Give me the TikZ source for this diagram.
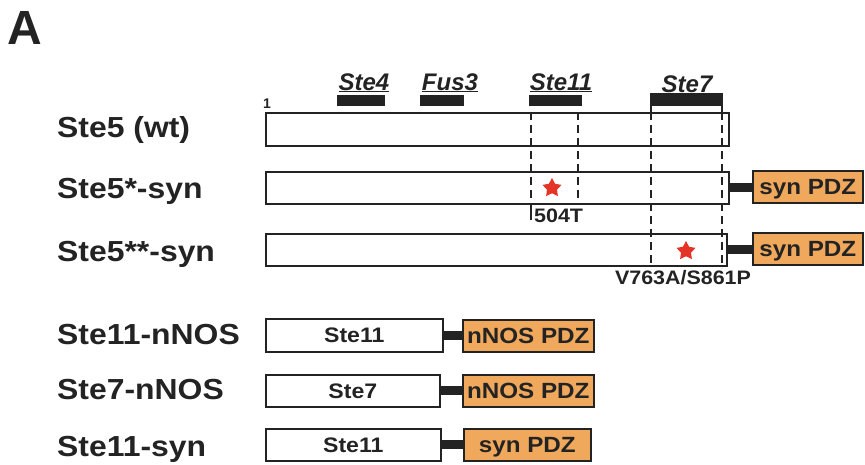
\documentclass[tikz,border=0pt]{standalone}
\usepackage{fontspec}
\setmainfont{Liberation Sans}
\newfontfamily\lf[FakeStretch=1.1]{Liberation Sans}
\usetikzlibrary{shapes.geometric}
\definecolor{pdz}{RGB}{240,168,92}
\definecolor{ink}{RGB}{35,35,35}
\definecolor{starred}{RGB}{228,52,40}
\tikzset{
  bar/.style={draw=ink, line width=1.6pt, fill=white, anchor=north west, inner sep=0pt,
    font=\lf\bfseries\fontsize{21}{21}\selectfont, text=ink, text height=15pt, text depth=0pt},
  pdzbox/.style={draw=ink, line width=1.6pt, fill=pdz, anchor=north west, inner sep=0pt,
    font=\lf\bfseries\fontsize{22}{22}\selectfont, text=ink, text height=16pt, text depth=0pt},
  link/.style={draw=ink, line width=9pt},
  dom/.style={fill=ink, anchor=north west, inner sep=0pt},
  guide/.style={draw=ink, line width=1.3pt, dash pattern=on 8pt off 5pt},
  lbl/.style={anchor=base west, inner sep=0pt, font=\lf\bfseries\fontsize{29}{29}\selectfont, text=ink},
  domlbl/.style={anchor=base, inner sep=0pt, font=\bfseries\itshape\fontsize{24}{24}\selectfont, text=ink},
  mut/.style={inner sep=0pt, font=\lf\bfseries\fontsize{19.5}{19.5}\selectfont, text=ink},
  starmark/.style={star, star points=5, star point ratio=1.9, fill=starred, draw=none, minimum size=20pt, inner sep=0pt}
}
\begin{document}
\begin{tikzpicture}[x=1pt,y=-1pt]
\useasboundingbox (0,0) rectangle (865,464);
% panel letter
\node[anchor=base west, inner sep=0pt, font=\bfseries\fontsize{48}{48}\selectfont, text=ink] (panel) at (7,44) {A};
% row labels
\node[lbl] (l1) at (57,137) {Ste5 (wt)};
\node[lbl] (l2) at (57,198) {Ste5*-syn};
\node[lbl] (l3) at (57,261) {Ste5**-syn};
\node[lbl] (l4) at (57,344) {Ste11-nNOS};
\node[lbl] (l5) at (57,399) {Ste7-nNOS};
\node[lbl] (l6) at (57,456) {Ste11-syn};
% domain bars
\node[dom, minimum width=48pt, minimum height=11pt] (d4) at (337,95) {};
\node[dom, minimum width=44pt, minimum height=11pt] (df) at (420,95) {};
\node[dom, minimum width=53pt, minimum height=11pt] (d11) at (529,95) {};
\node[dom, minimum width=73pt, minimum height=13pt] (d7) at (650,93) {};
\node[domlbl] (t4) at (364,90) {\underline{Ste4}};
\node[domlbl] (tf) at (450,90) {\underline{Fus3}};
\node[domlbl] (t11) at (561,90) {\underline{Ste11}};
\node[domlbl] (t7) at (687,92) {\underline{Ste7}};
\node[anchor=base, inner sep=0pt, font=\bfseries\fontsize{14}{14}\selectfont, text=ink] (one) at (267,108) {1};
% Ste5 constructs
\node[bar, minimum width=463pt, minimum height=33pt] (wt) at (265,112) {};
\node[bar, minimum width=463pt, minimum height=32pt] (s1) at (265,171) {};
\node[pdzbox, minimum width=110pt, minimum height=32pt] (p1) at (752,170) {syn PDZ};
\draw[link] (s1.east) -- (s1.east -| p1.west);
\node[bar, minimum width=461pt, minimum height=32pt] (s2) at (265,233) {};
\node[pdzbox, minimum width=110pt, minimum height=32pt] (p2) at (752,232) {syn PDZ};
\draw[link] (s2.east) -- (s2.east -| p2.west);
% bracket ends of Ste7 bar
\draw[ink, line width=1.3pt] (651,106) -- (651,112) (722,106) -- (722,112);
% dashed guides
\draw[guide] (531,112) -- (531,203);
\draw[guide] (578,112) -- (578,203);
\draw[guide] (651,112) -- (651,265);
\draw[guide] (722,112) -- (722,268);
% mutations
\node[starmark] (m1) at (552,188) {};
\node[starmark] (m2) at (686,251) {};
\draw[ink, line width=2.5pt] (531,203) -- (531,220);
\node[mut, anchor=base west] (m1t) at (534,222) {504T};
\node[mut, anchor=base] (m2t) at (683,284) {V763A/S861P};
% fusion constructs
\node[bar, minimum width=177pt, minimum height=33pt] (n1) at (265,318) {Ste11};
\node[pdzbox, minimum width=131pt, minimum height=32pt] (q1) at (462,319) {nNOS PDZ};
\draw[link] (n1.east) -- (n1.east -| q1.west);
\node[bar, minimum width=174pt, minimum height=32pt] (n2) at (265,374) {Ste7};
\node[pdzbox, minimum width=131pt, minimum height=32pt] (q2) at (462,374) {nNOS PDZ};
\draw[link] (n2.east) -- (n2.east -| q2.west);
\node[bar, minimum width=175pt, minimum height=32pt] (n3) at (265,428) {Ste11};
\node[pdzbox, minimum width=127pt, minimum height=32pt] (q3) at (463,428) {syn PDZ};
\draw[link] (n3.east) -- (n3.east -| q3.west);
\end{tikzpicture}
\end{document}
